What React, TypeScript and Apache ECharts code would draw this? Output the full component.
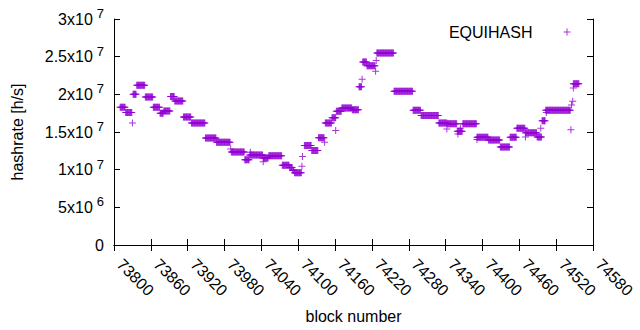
import React, { useEffect, useRef } from "react";
import * as echarts from "echarts";

// x range & ticks
const xMin = 73800;
const xMax = 74580;
const xStep = 60;

// y ticks
const yTickValues = [0, 5e6, 1e7, 1.5e7, 2e7, 2.5e7, 3e7];
const yTickMantissa = ["0", "5", "1", "1.5", "2", "2.5", "3"];
const yTickExponent = ["", "6", "7", "7", "7", "7", "7"];

// runs of constant hashrate (block from, block to, value h/s)
const runStart = [73810, 73819, 73831, 73837, 73851, 73864, 73875, 73881, 73892, 73899, 73913, 73926, 73949, 73967, 73991, 74013, 74021, 74043, 74052, 74074, 74086, 74091, 74094, 74110, 74122, 74133, 74144, 74155, 74162, 74171, 74188, 74199, 74205, 74212, 74228, 74256, 74287, 74300, 74329, 74343, 74359, 74368, 74391, 74410, 74429, 74445, 74456, 74470, 74489, 74497, 74503, 74516, 74548];
const runEnd = [73818, 73829, 73836, 73850, 73863, 73874, 73880, 73891, 73898, 73912, 73925, 73948, 73966, 73989, 74012, 74020, 74042, 74051, 74073, 74085, 74090, 74093, 74105, 74121, 74132, 74142, 74154, 74161, 74170, 74187, 74198, 74203, 74211, 74225, 74255, 74286, 74299, 74328, 74342, 74358, 74367, 74390, 74409, 74428, 74444, 74455, 74469, 74488, 74496, 74502, 74515, 74543, 74557];
const runValue = [18.3e6, 17.6e6, 20.0e6, 21.2e6, 19.65e6, 18.3e6, 17.5e6, 17.8e6, 19.7e6, 19.1e6, 17.0e6, 16.2e6, 14.2e6, 13.65e6, 12.35e6, 11.3e6, 11.95e6, 11.55e6, 11.85e6, 10.6e6, 10.28e6, 9.92e6, 9.6e6, 13.2e6, 12.55e6, 14.25e6, 16.2e6, 16.9e6, 17.75e6, 18.2e6, 17.95e6, 21.0e6, 24.3e6, 23.8e6, 25.5e6, 20.4e6, 17.9e6, 17.2e6, 16.2e6, 16.1e6, 15.1e6, 16.1e6, 14.3e6, 13.95e6, 13.0e6, 14.3e6, 15.5e6, 14.9e6, 14.35e6, 16.5e6, 17.9e6, 17.9e6, 21.4e6];

// isolated points
const singleBlock = [73830, 73990, 74022, 74043, 74106, 74107, 74143, 74161, 74204, 74226, 74227, 74342, 74360, 74364, 74391, 74470, 74495, 74504, 74544, 74545, 74547, 74548];
const singleValue = [16.2e6, 12.75e6, 12.3e6, 11.05e6, 10.45e6, 11.75e6, 13.65e6, 15.2e6, 22.0e6, 23.05e6, 24.5e6, 15.4e6, 14.75e6, 15.5e6, 14.0e6, 14.35e6, 15.5e6, 17.6e6, 15.3e6, 18.6e6, 19.07e6, 20.85e6];

const seriesName = "EQUIHASH";
const color = "#9400D3";
const cross = "path://M3,0H4V3H7V4H4V7H3V4H0V3H3Z";
const font = "Liberation Sans";

function buildPoints(): number[][] {
  const pts: number[][] = [];
  for (let i = 0; i < runStart.length; i++) {
    for (let b = runStart[i]; b <= runEnd[i]; b++) pts.push([b, runValue[i]]);
  }
  for (let i = 0; i < singleBlock.length; i++) pts.push([singleBlock[i], singleValue[i]]);
  return pts;
}

export default function App() {
  const ref = useRef<HTMLDivElement>(null);
  useEffect(() => {
    if (!ref.current) return;
    const chart = echarts.init(ref.current, undefined, { renderer: "svg" });
    const axisLine = { show: true, lineStyle: { color: "#000", width: 1 } };
    const tick = { show: true, inside: true, length: 6, lineStyle: { color: "#000" } };
    chart.setOption({
      animation: false,
      textStyle: { fontFamily: font, fontSize: 16, color: "#000" },
      grid: { left: 114, right: 47, top: 19, bottom: 85 },
      legend: {
        data: [seriesName],
        right: 69.5,
        top: 24,
        padding: 0,
        align: "right",
        itemWidth: 7,
        itemHeight: 7,
        icon: cross,
        itemStyle: { color },
        textStyle: { fontFamily: font, fontSize: 16, color: "#000", padding: [0, 26, 0, 0] },
      },
      xAxis: [
        {
          type: "value",
          position: "bottom",
          min: xMin,
          max: xMax,
          interval: xStep,
          name: "block number",
          nameLocation: "middle",
          nameGap: 63,
          nameTextStyle: { fontFamily: font, fontSize: 16, color: "#000" },
          axisLine,
          axisTick: tick,
          splitLine: { show: false },
          axisLabel: {
            rotate: -45,
            margin: 11,
            padding: [0, 0, 0, 8],
            fontFamily: font,
            fontSize: 16,
            color: "#000",
            showMinLabel: true,
            showMaxLabel: true,
            formatter: (v: number) => String(v),
          },
        },
        {
          type: "value",
          position: "top",
          min: xMin,
          max: xMax,
          interval: xStep,
          axisLine,
          axisTick: tick,
          axisLabel: { show: false },
          splitLine: { show: false },
        },
      ],
      yAxis: [
        {
          type: "value",
          position: "left",
          min: 0,
          max: 3e7,
          interval: 5e6,
          name: "hashrate [h/s]",
          nameLocation: "middle",
          nameGap: 89,
          nameTextStyle: { fontFamily: font, fontSize: 16, color: "#000" },
          axisLine,
          axisTick: tick,
          splitLine: { show: false },
          axisLabel: {
            margin: 10,
            formatter: (v: number) => {
              const i = yTickValues.indexOf(v);
              if (i < 0) return "";
              if (!yTickExponent[i]) return `{b|${yTickMantissa[i]}}`;
              return `{b|${yTickMantissa[i]}x10}{s|${yTickExponent[i]}}`;
            },
            rich: {
              b: { fontFamily: font, fontSize: 16, color: "#000" },
              s: { fontFamily: font, fontSize: 13, color: "#000", padding: [0, 0, 11, 4] },
            },
          },
        },
        {
          type: "value",
          position: "right",
          min: 0,
          max: 3e7,
          interval: 5e6,
          axisLine,
          axisTick: tick,
          axisLabel: { show: false },
          splitLine: { show: false },
        },
      ],
      series: [
        {
          name: seriesName,
          type: "scatter",
          symbol: cross,
          symbolSize: 7,
          progressive: 0,
          itemStyle: { color },
          data: buildPoints(),
        },
      ],
    });
    return () => chart.dispose();
  }, []);
  return <div ref={ref} style={{ width: 640, height: 330, position: "absolute", left: 0, top: 0 }} />;
}
